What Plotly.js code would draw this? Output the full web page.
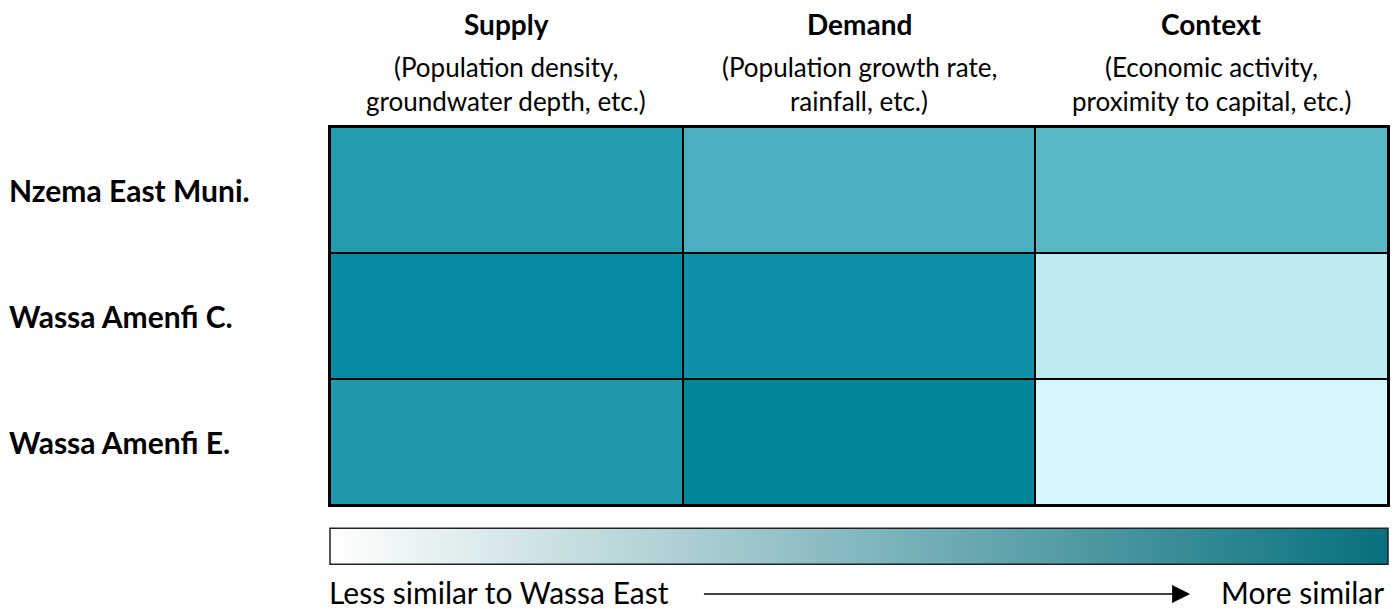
<!DOCTYPE html>
<html><head><meta charset="utf-8">
<script src="https://cdn.plot.ly/plotly-3.0.1.min.js"></script>
<style>body{margin:0;background:#fff}#chart{width:1397px;height:609px}</style>
</head><body><div id="chart"></div>
<script>
// ---- data ----
const columns = ["Supply", "Demand", "Context"];
const subLine1 = ["(Population density,", "(Population growth rate,", "(Economic activity,"];
const subLine2 = ["groundwater depth, etc.)", "rainfall, etc.)", "proximity to capital, etc.)"];
const districts = ["Nzema East Muni.", "Wassa Amenfi C.", "Wassa Amenfi E."];
// similarity scores (0 = less similar, 1 = more similar)
const supplyScores  = [0.75, 0.92, 0.78];
const demandScores  = [0.62, 0.87, 0.97];
const contextScores = [0.55, 0.15, 0.05];
const cellScale = [[0.0,'#e4fcff'],[0.05,'#d5f8fe'],[0.15,'#bdebf1'],[0.55,'#5ab8c6'],[0.62,'#4aafbe'],[0.75,'#269dae'],[0.78,'#2298ac'],[0.87,'#1191a7'],[0.92,'#078ba0'],[0.97,'#008697'],[1.0,'#008292']];
const legendScale = [[0,'#ffffff'],[1,'#07707e']];
const lessLabel = "Less similar to Wassa East";
const moreLabel = "More similar";

const z = districts.map((d,i)=>[supplyScores[i], demandScores[i], contextScores[i]]);
const FONT = 'Lato, "Source Sans Pro", "Noto Sans", sans-serif';

const traces = [
  {type:'heatmap', x:columns, y:districts, z:z, colorscale:cellScale, zmin:0, zmax:1,
   showscale:false, xgap:2, ygap:2, hoverinfo:'skip'},
  {type:'scatter', mode:'markers', x:[null], y:[null], hoverinfo:'skip', showlegend:false,
   marker:{color:[0], cmin:0, cmax:1, colorscale:legendScale, showscale:true,
     colorbar:{orientation:'h', x:0.5, xanchor:'center', y:-0.111, yanchor:'middle',
       len:1058, lenmode:'pixels', thickness:36, thicknessmode:'pixels', xpad:0, ypad:0,
       outlinewidth:1.5, outlinecolor:'#222', showticklabels:false, ticks:''}}}
];

const ann = [];
columns.forEach((c,i)=>{
  ann.push({x:c, xref:'x', y:1, yref:'paper', yanchor:'middle', yshift:103, showarrow:false,
    text:'<b>'+c+'</b>', font:{size:28, color:'#000', family:FONT}});
  ann.push({x:c, xref:'x', y:1, yref:'paper', yanchor:'middle', yshift:60, showarrow:false,
    text:subLine1[i], font:{size:26, color:'#000', family:FONT}});
  ann.push({x:c, xref:'x', y:1, yref:'paper', yanchor:'middle', yshift:26, showarrow:false,
    text:subLine2[i], font:{size:26, color:'#000', family:FONT}});
});
districts.forEach(d=>{
  ann.push({x:0, xref:'paper', xanchor:'left', xshift:-323, y:d, yref:'y', yanchor:'middle',
    showarrow:false, text:'<b>'+d+'</b>', font:{size:30, color:'#000', family:FONT}});
});
ann.push({x:0, xref:'paper', xanchor:'left', xshift:-3, y:0, yref:'paper', yanchor:'middle', yshift:-87,
  showarrow:false, text:lessLabel, font:{size:30, color:'#000', family:FONT}});
ann.push({x:1, xref:'paper', xanchor:'right', xshift:-2, y:0, yref:'paper', yanchor:'middle', yshift:-87,
  showarrow:false, text:moreLabel, font:{size:30, color:'#000', family:FONT}});
ann.push({x:0.813, xref:'paper', y:0, yref:'paper', yshift:-89, ax:0.352, axref:'paper', ay:0, ayref:'pixel',
  text:'', showarrow:true, arrowhead:2, arrowsize:2.4, arrowwidth:1.5, arrowcolor:'#000'});

const layout = {
  width:1397, height:609, paper_bgcolor:'#fff', plot_bgcolor:'#000',
  margin:{l:330, r:9, t:127, b:104},
  font:{family:FONT, color:'#000'},
  xaxis:{showticklabels:false, showgrid:false, zeroline:false, showline:true, mirror:true,
    linecolor:'#000', linewidth:2, ticks:'', fixedrange:true},
  yaxis:{showticklabels:false, showgrid:false, zeroline:false, showline:true, mirror:true,
    linecolor:'#000', linewidth:2, ticks:'', autorange:'reversed', fixedrange:true},
  annotations:ann, showlegend:false
};
Plotly.newPlot('chart', traces, layout, {displayModeBar:false, staticPlot:true});
</script></body></html>
